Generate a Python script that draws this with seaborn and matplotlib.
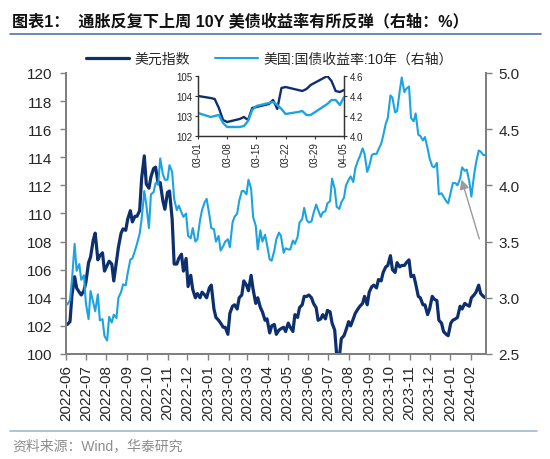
import pandas as pd
import matplotlib.pyplot as plt
import matplotlib.ticker as mticker
from matplotlib.lines import Line2D
import seaborn as sns

# Style général
sns.set_theme(style="white")
plt.rcParams['font.family'] = ['Liberation Sans', 'Noto Sans CJK SC']
plt.rcParams['axes.unicode_minus'] = False

DARK = '#0e2f6e'
LIGHT = '#1ca4e2'
GREY = '#808080'

# Données : indice dollar et taux US 10 ans, relevés mardi et vendredi
fridays = pd.date_range('2022-06-03', '2024-02-23', freq='W-FRI')
tuesdays = pd.date_range('2022-06-07', '2024-02-20', freq='W-TUE')

dxy_fri = [102.1, 104.2, 104.7, 104.2, 105.1,
           106.9, 108.6, 107.0, 105.9, 106.6,
           105.2, 107.6, 108.9, 109.6, 109.4,
           109.8, 112.5, 112.1, 112.6, 113.3,
           112.2, 110.3, 111.6, 106.4, 106.8,
           105.9, 104.8, 104.6, 104.3, 104.4,
           104.0, 104.9, 102.6, 102.2, 101.9,
           102.9, 103.5, 104.0, 105.2, 104.5,
           104.6, 104.0, 103.0, 102.5, 102.0,
           101.4, 101.8, 101.6, 101.9, 102.8,
           103.3, 104.1, 104.2, 103.6, 102.4,
           102.8, 103.1, 102.2, 99.9, 101.1,
           101.7, 102.0, 102.9, 103.4, 104.1,
           104.4, 104.9, 105.3, 105.8, 106.3,
           106.0, 106.5, 106.3, 106.5, 105.5,
           105.0, 104.0, 103.5, 103.2, 103.9,
           102.4, 101.6, 101.3, 102.4, 102.6,
           103.2, 103.5, 104.0, 104.4, 104.3,
           104.0]
dxy_tue = [102.3, 105.5, 104.4, 104.5,
           106.5, 108.1, 106.7, 107.2,
           106.3, 106.4, 106.6, 108.6, 108.8,
           110.2, 109.8, 110.2, 114.1,
           111.8, 113.2, 112.1, 110.9,
           111.5, 109.6, 106.4, 107.1, 106.8,
           105.6, 104.0, 104.0, 104.2,
           104.7, 103.2, 102.4, 101.9, 101.4,
           103.4, 103.2, 104.2, 104.9,
           105.6, 103.6, 103.3, 102.4,
           101.5, 102.1, 101.7, 101.9,
           102.2, 101.6, 102.6, 103.5, 104.1,
           104.0, 103.3, 102.5, 102.5,
           103.0, 101.7, 99.8, 101.3,
           102.3, 102.5, 103.2, 103.6, 103.5,
           104.8, 104.7, 105.2, 106.2,
           107.0, 105.8, 106.2, 106.3, 106.7,
           105.6, 104.1, 103.5, 102.8,
           104.1, 103.8, 102.2, 101.4,
           102.2, 102.5, 103.4, 103.6, 103.4,
           104.2, 104.9, 104.1]

ust_fri = [2.94, 3.16, 3.24, 3.16, 2.95,
           3.06, 2.88, 2.80, 2.66, 2.83,
           2.85, 3.00, 3.12, 3.22, 3.35,
           3.48, 3.70, 3.83, 3.92, 4.02,
           4.24, 4.05, 4.18, 3.88, 3.82,
           3.72, 3.55, 3.62, 3.52, 3.78,
           3.88, 3.62, 3.50, 3.42, 3.50,
           3.45, 3.72, 3.86, 3.95, 4.05,
           3.72, 3.43, 3.50, 3.47, 3.33,
           3.52, 3.55, 3.44, 3.43, 3.48,
           3.67, 3.80, 3.67, 3.75, 3.78,
           3.76, 3.84, 4.06, 3.81, 3.85,
           4.00, 4.08, 4.15, 4.26, 4.28,
           4.17, 4.28, 4.32, 4.44, 4.60,
           4.78, 4.66, 4.96, 4.86, 4.60,
           4.64, 4.44, 4.43, 4.24, 4.16,
           3.92, 3.90, 3.84, 4.02, 4.00,
           4.16, 4.14, 3.90, 4.20, 4.30,
           4.27]
ust_tue = [2.98, 3.48, 3.30, 3.20,
           2.81, 2.96, 3.03, 2.81,
           2.62, 2.78, 2.82, 3.05, 3.11,
           3.34, 3.42, 3.57, 3.95,
           3.62, 3.94, 4.01, 4.10,
           4.05, 4.12, 3.78, 3.76, 3.75,
           3.53, 3.50, 3.69, 3.85,
           3.74, 3.61, 3.55, 3.46, 3.52,
           3.67, 3.75, 3.95, 3.92,
           3.97, 3.64, 3.60, 3.56,
           3.34, 3.42, 3.58, 3.40,
           3.43, 3.51, 3.54, 3.70, 3.69,
           3.68, 3.83, 3.72, 3.77,
           3.86, 3.97, 3.79, 3.89,
           4.05, 4.03, 4.22, 4.33, 4.12,
           4.27, 4.28, 4.37, 4.55,
           4.80, 4.65, 4.84, 4.83, 4.88,
           4.57, 4.45, 4.40, 4.33,
           4.17, 4.20, 3.93, 3.86,
           3.94, 4.02, 4.06, 4.13, 4.03,
           4.09, 4.31, 4.27]

# Zoom : mars - avril 2024 (quotidien)
zoom_days = pd.to_datetime(['2024-03-01', '2024-03-04', '2024-03-05', '2024-03-06', '2024-03-07',
                            '2024-03-08', '2024-03-11', '2024-03-12', '2024-03-13', '2024-03-14',
                            '2024-03-15', '2024-03-18', '2024-03-19', '2024-03-20', '2024-03-21',
                            '2024-03-22', '2024-03-25', '2024-03-26', '2024-03-27', '2024-03-28',
                            '2024-04-01', '2024-04-02', '2024-04-03', '2024-04-04', '2024-04-05'])
zoom_dxy = [104.0, 103.9, 103.85, 103.4, 102.8,
            102.7, 102.85, 102.95, 102.8, 103.4,
            103.45, 103.6, 103.8, 103.35, 104.4,
            104.45, 104.3, 104.25, 104.35, 104.55,
            105.0, 104.75, 104.25, 104.2, 104.3]
zoom_ust = [4.23, 4.19, 4.20, 4.21, 4.13,
            4.09, 4.09, 4.10, 4.15, 4.26,
            4.30, 4.33, 4.34, 4.31, 4.27,
            4.22, 4.24, 4.25, 4.21, 4.21,
            4.32, 4.36, 4.36, 4.31, 4.39]

df = pd.concat([
    pd.DataFrame({'date': fridays, 'dxy': dxy_fri, 'ust': ust_fri}),
    pd.DataFrame({'date': tuesdays, 'dxy': dxy_tue, 'ust': ust_tue}),
]).sort_values('date')

month_ticks = pd.date_range('2022-06-01', '2024-02-01', freq='MS')
zoom_ticks = pd.date_range('2024-03-01', '2024-04-05', freq='7D')

fig = plt.figure(figsize=(5.5, 4.6), dpi=100)

# Graphique principal
ax = fig.add_axes([0.12, 0.2283, 0.7636, 0.6109])
ax2 = ax.twinx()
sns.lineplot(data=df, x='date', y='dxy', ax=ax, color=DARK, lw=2.3, legend=False)
sns.lineplot(data=df, x='date', y='ust', ax=ax2, color=LIGHT, lw=1.5, legend=False)

ax.set_xlim(pd.Timestamp('2022-06-01'), pd.Timestamp('2024-02-24'))
ax.set_ylim(100, 120)
ax.set_yticks(range(100, 121, 2))
ax2.set_ylim(2.5, 5.0)
ax2.set_yticks([2.5, 3.0, 3.5, 4.0, 4.5, 5.0])
ax2.yaxis.set_major_formatter(mticker.FormatStrFormatter('%.1f'))
ax.set_xticks(month_ticks)
ax.set_xticklabels([d.strftime('%Y-%m') for d in month_ticks], rotation=90)
ax.set_xlabel('')
ax.set_ylabel('')
ax2.set_ylabel('')

for a in (ax, ax2):
    a.spines['top'].set_visible(False)
    for s in ('left', 'right', 'bottom'):
        a.spines[s].set_color(GREY)
        a.spines[s].set_linewidth(1.4)
ax.tick_params(axis='x', direction='out', length=4, width=1, color=GREY, labelsize=11, pad=3, bottom=True)
ax.tick_params(axis='y', direction='out', length=4, width=1, color=GREY, labelsize=11, pad=6, left=True)
ax2.tick_params(axis='y', direction='out', length=4, width=1, color=GREY, labelsize=11, pad=5, right=True)

# Flèche vers le zoom
ax2.annotate('', xy=(0.94, 0.63), xycoords='axes fraction', xytext=(0.986, 0.40),
             arrowprops=dict(arrowstyle='-|>', color='#9a9a9a', lw=1, mutation_scale=14))

# Encart
ins = fig.add_axes([0.36, 0.7022, 0.2655, 0.1304])
ins.set_facecolor('white')
ins2 = ins.twinx()
sns.lineplot(x=zoom_days, y=zoom_dxy, ax=ins, color=DARK, lw=1.7, legend=False)
sns.lineplot(x=zoom_days, y=zoom_ust, ax=ins2, color=LIGHT, lw=1.7, legend=False)
ins.set_xlim(zoom_days[0], zoom_days[-1])
ins.set_ylim(102, 105)
ins.set_yticks([102, 103, 104, 105])
ins2.set_ylim(4.0, 4.6)
ins2.set_yticks([4.0, 4.2, 4.4, 4.6])
ins2.yaxis.set_major_formatter(mticker.FormatStrFormatter('%.1f'))
ins.set_xticks(zoom_ticks)
ins.set_xticklabels([d.strftime('%m-%d') for d in zoom_ticks], rotation=90)
ins.set_xlabel('')
ins.set_ylabel('')
ins2.set_ylabel('')
for a in (ins, ins2):
    a.spines['top'].set_visible(False)
    for s in ('left', 'right', 'bottom'):
        a.spines[s].set_color('#333333')
        a.spines[s].set_linewidth(0.9)
ins.tick_params(axis='both', direction='out', length=2.5, width=0.8, color='#333333', labelsize=7, pad=1.5,
                left=True, bottom=True)
ins2.tick_params(axis='y', direction='out', length=2.5, width=0.8, color='#333333', labelsize=7, pad=1.5, right=True)

# Légende
handles = [ax.lines[0], ax2.lines[0]]
fig.legend(handles, ['美元指数', '美国:国债收益率:10年（右轴）'], loc='center', bbox_to_anchor=(0.49, 0.87),
           ncol=2, frameon=False, fontsize=10, handlelength=3.1, handletextpad=0.4, columnspacing=1.8)

# Titre et source
fig.text(0.022, 0.952, '图表1：  通胀反复下上周 10Y 美债收益率有所反弹（右轴：%）',
         fontsize=11.6, fontweight='bold', ha='left', va='center', color='#111111')
fig.add_artist(Line2D([0.019, 0.984], [0.925, 0.925], color='#4f76a6', lw=1.2))
fig.add_artist(Line2D([0.019, 0.976], [0.061, 0.061], color='#a6b9cf', lw=1.2))
fig.text(0.022, 0.030, '资料来源：Wind，华泰研究', fontsize=10, color='#8c8c8c', ha='left', va='center')

plt.savefig('out.png', dpi=100)
plt.close()
